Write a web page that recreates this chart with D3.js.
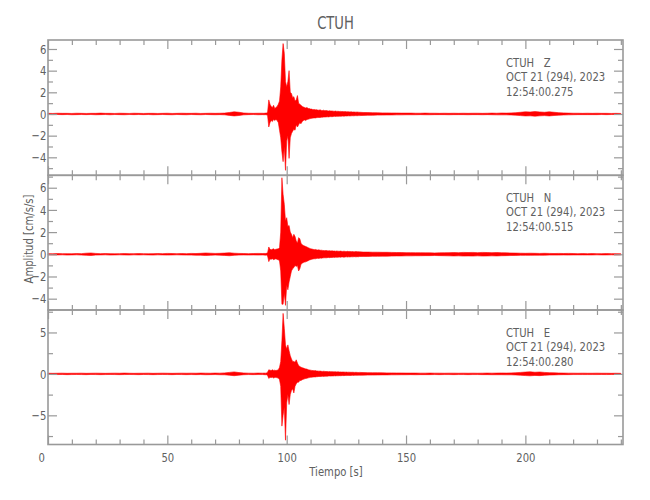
<!DOCTYPE html>
<html><head><meta charset="utf-8">
<script src="https://cdn.jsdelivr.net/npm/d3@7"></script>
<style>
body{margin:0;background:#fff}
text{font-family:"DejaVu Sans Condensed","Liberation Sans Narrow",sans-serif;fill:#606060}
</style>
</head><body><svg id="c" width="650" height="500"></svg>
<script>
// ---------- data ----------
const title = "CTUH";
const xLabel = "Tiempo [s]";
const yLabel = "Amplitud [cm/s/s]";
const xTicks = [0, 50, 100, 150, 200];
const xMinor = [10,20,30,40,60,70,80,90,110,120,130,140,160,170,180,190,210,220,230,240];
const yTicksZ = [-4, -2, 0, 2, 4, 6], yMinorZ = [-5, -3, -1, 1, 3, 5];
const yTicksN = [-4, -2, 0, 2, 4, 6], yMinorN = [-5, -3, -1, 1, 3, 5, 7];
const yTicksE = [-5, 0, 5], yMinorE = [-7.5, -2.5, 2.5, 7.5];
const infoZ = ["CTUH   Z", "OCT 21 (294), 2023", "12:54:00.275"];
const infoN = ["CTUH   N", "OCT 21 (294), 2023", "12:54:00.515"];
const infoE = ["CTUH   E", "OCT 21 (294), 2023", "12:54:00.280"];

// sample times (s): 2 s before the event, 0.5 s during it, 2 s after
const tPre = d3.range(0, 90, 2);          // 45
const tMain = d3.range(90, 131, 0.5);     // 82
const tPost = d3.range(132, 242, 2);      // 55
const sampleTimes = tPre.concat(tMain, tPost);

// envelope (max / min) of each component, cm/s/s
const zHi = [
 0.06,0.05,0.07,0.06,0.06,0.05,0.07,0.06,0.05,0.06,
 0.06,0.08,0.06,0.06,0.05,0.07,0.06,0.05,0.07,0.06,
 0.05,0.06,0.06,0.05,0.06,0.07,0.05,0.06,0.07,0.06,
 0.06,0.07,0.05,0.06,0.07,0.06,0.07,0.08,0.14,0.2,
 0.16,0.09,0.07,0.06,0.07,
 0.07,0.06,0.08,0.08,0.15,1.3,0.9,0.7,0.6,0.8,
 0.5,0.6,0.7,0.9,1.2,2.5,5.0,6.5,5.6,3.0,
 2.5,3.0,4.0,2.0,1.9,1.5,1.6,1.2,1.3,1.7,
 1.0,0.9,0.8,0.7,0.65,0.6,0.55,0.6,0.5,0.5,
 0.45,0.45,0.4,0.42,0.38,0.4,0.36,0.35,0.38,0.33,
 0.32,0.35,0.3,0.32,0.3,0.28,0.3,0.27,0.28,0.26,
 0.25,0.27,0.24,0.25,0.23,0.24,0.22,0.23,0.21,0.22,
 0.2,0.21,0.2,0.19,0.2,0.18,0.19,0.18,0.17,0.18,
 0.17,0.16,
 0.14,0.13,0.12,0.11,0.1,0.1,0.09,0.09,0.08,0.08,
 0.08,0.07,0.07,0.08,0.07,0.07,0.06,0.07,0.06,0.07,
 0.06,0.07,0.06,0.07,0.07,0.06,0.07,0.08,0.07,0.09,
 0.08,0.1,0.12,0.16,0.2,0.18,0.22,0.19,0.16,0.2,
 0.16,0.12,0.1,0.08,0.07,0.07,0.06,0.07,0.06,0.07,
 0.06,0.06,0.05,0.06,0.05
];
const zLo = [
 -0.05,-0.06,-0.05,-0.06,-0.05,-0.07,-0.06,-0.05,-0.06,-0.05,
 -0.07,-0.06,-0.05,-0.07,-0.05,-0.06,-0.07,-0.05,-0.06,-0.05,
 -0.06,-0.05,-0.07,-0.06,-0.05,-0.06,-0.07,-0.05,-0.06,-0.07,
 -0.05,-0.06,-0.07,-0.05,-0.06,-0.07,-0.06,-0.08,-0.13,-0.18,
 -0.14,-0.08,-0.06,-0.05,-0.07,
 -0.06,-0.07,-0.06,-0.08,-0.15,-1.2,-0.8,-0.6,-0.7,-0.5,
 -0.6,-0.5,-0.6,-0.8,-1.5,-2.2,-3.5,-4.4,-3.0,-5.2,
 -2.5,-2.0,-4.1,-2.2,-1.8,-1.6,-1.4,-1.5,-1.0,-1.2,
 -1.0,-0.8,-0.9,-0.7,-0.6,-0.55,-0.6,-0.5,-0.48,-0.45,
 -0.42,-0.4,-0.38,-0.36,-0.37,-0.34,-0.33,-0.32,-0.33,-0.3,
 -0.3,-0.28,-0.28,-0.27,-0.26,-0.27,-0.25,-0.24,-0.25,-0.23,
 -0.22,-0.23,-0.21,-0.22,-0.2,-0.21,-0.2,-0.19,-0.2,-0.18,
 -0.19,-0.18,-0.17,-0.18,-0.17,-0.16,-0.17,-0.16,-0.15,-0.16,
 -0.15,-0.15,
 -0.13,-0.12,-0.12,-0.1,-0.1,-0.09,-0.09,-0.08,-0.08,-0.07,
 -0.07,-0.07,-0.06,-0.07,-0.07,-0.06,-0.06,-0.06,-0.07,-0.06,
 -0.06,-0.06,-0.07,-0.06,-0.06,-0.07,-0.06,-0.07,-0.08,-0.08,
 -0.08,-0.09,-0.11,-0.15,-0.18,-0.17,-0.2,-0.17,-0.15,-0.18,
 -0.14,-0.11,-0.09,-0.08,-0.07,-0.06,-0.06,-0.06,-0.06,-0.06,
 -0.05,-0.06,-0.05,-0.05,-0.05
];
const nHi = [
 0.06,0.05,0.07,0.06,0.06,0.05,0.07,0.06,0.1,0.12,
 0.08,0.06,0.07,0.06,0.05,0.06,0.07,0.06,0.06,0.07,
 0.06,0.05,0.06,0.07,0.06,0.08,0.07,0.06,0.07,0.06,
 0.08,0.07,0.09,0.12,0.1,0.08,0.09,0.11,0.14,0.1,
 0.08,0.07,0.06,0.07,0.08,
 0.07,0.08,0.07,0.09,0.15,0.66,0.45,0.4,0.45,0.5,
 0.42,0.45,0.48,0.5,0.6,2.0,6.9,5.4,4.5,3.0,
 3.3,2.5,2.6,2.0,1.8,1.5,1.8,1.6,1.2,1.0,
 1.5,1.4,1.0,0.85,0.8,0.75,0.7,0.65,0.6,0.55,
 0.5,0.48,0.45,0.42,0.44,0.4,0.38,0.4,0.36,0.37,
 0.35,0.34,0.33,0.35,0.32,0.31,0.33,0.3,0.31,0.29,
 0.3,0.28,0.3,0.28,0.27,0.29,0.27,0.26,0.28,0.26,
 0.25,0.27,0.25,0.26,0.24,0.25,0.24,0.23,0.25,0.23,
 0.24,0.22,
 0.2,0.2,0.19,0.19,0.18,0.18,0.17,0.16,0.16,0.15,
 0.15,0.14,0.14,0.13,0.13,0.12,0.13,0.14,0.15,0.16,
 0.15,0.17,0.16,0.17,0.15,0.17,0.16,0.15,0.16,0.14,
 0.13,0.12,0.11,0.1,0.09,0.1,0.09,0.08,0.09,0.08,
 0.07,0.08,0.07,0.08,0.07,0.06,0.07,0.06,0.07,0.06,
 0.06,0.07,0.06,0.06,0.05
];
const nLo = [
 -0.05,-0.06,-0.06,-0.05,-0.07,-0.06,-0.05,-0.07,-0.09,-0.11,
 -0.07,-0.06,-0.05,-0.07,-0.06,-0.05,-0.06,-0.07,-0.05,-0.06,
 -0.05,-0.06,-0.07,-0.05,-0.06,-0.07,-0.06,-0.05,-0.06,-0.07,
 -0.07,-0.08,-0.08,-0.11,-0.09,-0.07,-0.08,-0.1,-0.13,-0.09,
 -0.07,-0.06,-0.07,-0.06,-0.07,
 -0.06,-0.07,-0.08,-0.07,-0.15,-0.66,-0.42,-0.45,-0.4,-0.48,
 -0.44,-0.4,-0.46,-0.5,-0.6,-1.5,-4.5,-4.5,-3.5,-4.6,
 -2.8,-3.2,-2.5,-2.0,-1.5,-1.3,-1.2,-1.0,-1.1,-1.0,
 -1.5,-1.3,-0.9,-0.8,-0.75,-0.7,-0.68,-0.62,-0.58,-0.52,
 -0.48,-0.45,-0.42,-0.4,-0.41,-0.38,-0.36,-0.37,-0.34,-0.35,
 -0.33,-0.32,-0.31,-0.32,-0.3,-0.29,-0.3,-0.28,-0.29,-0.27,
 -0.28,-0.26,-0.27,-0.26,-0.25,-0.27,-0.25,-0.24,-0.26,-0.24,
 -0.23,-0.25,-0.23,-0.24,-0.22,-0.23,-0.22,-0.21,-0.23,-0.21,
 -0.22,-0.2,
 -0.19,-0.19,-0.18,-0.18,-0.17,-0.17,-0.16,-0.15,-0.15,-0.14,
 -0.14,-0.13,-0.13,-0.12,-0.12,-0.11,-0.12,-0.13,-0.14,-0.15,
 -0.14,-0.16,-0.15,-0.16,-0.14,-0.16,-0.15,-0.14,-0.15,-0.13,
 -0.12,-0.11,-0.1,-0.09,-0.09,-0.09,-0.08,-0.08,-0.08,-0.07,
 -0.07,-0.07,-0.06,-0.07,-0.06,-0.06,-0.06,-0.06,-0.06,-0.05,
 -0.06,-0.06,-0.05,-0.06,-0.05
];
const eHi = [
 0.08,0.07,0.08,0.09,0.07,0.08,0.08,0.09,0.07,0.08,
 0.09,0.08,0.07,0.08,0.09,0.08,0.1,0.08,0.07,0.08,
 0.08,0.09,0.07,0.08,0.09,0.08,0.07,0.08,0.09,0.08,
 0.09,0.08,0.1,0.09,0.08,0.1,0.09,0.12,0.18,0.24,
 0.16,0.11,0.09,0.08,0.1,
 0.09,0.1,0.09,0.11,0.2,0.5,0.45,0.4,0.5,0.42,
 0.45,0.4,0.45,0.5,0.8,1.5,4.0,7.3,5.5,3.5,
 3.0,3.5,2.8,2.2,1.8,1.5,1.5,1.4,1.7,1.3,
 1.0,0.9,0.8,0.75,0.7,0.65,0.6,0.58,0.5,0.48,
 0.45,0.42,0.4,0.38,0.4,0.36,0.35,0.33,0.34,0.31,
 0.3,0.32,0.3,0.28,0.29,0.27,0.28,0.26,0.27,0.25,
 0.25,0.26,0.24,0.25,0.23,0.24,0.22,0.23,0.22,0.21,
 0.22,0.2,0.21,0.2,0.19,0.2,0.19,0.18,0.19,0.18,
 0.17,0.18,
 0.16,0.15,0.14,0.14,0.13,0.12,0.12,0.11,0.11,0.1,
 0.1,0.1,0.09,0.09,0.1,0.09,0.09,0.08,0.09,0.09,
 0.08,0.09,0.08,0.09,0.08,0.09,0.1,0.09,0.1,0.11,
 0.1,0.12,0.14,0.18,0.22,0.25,0.2,0.23,0.18,0.15,
 0.13,0.11,0.1,0.09,0.09,0.08,0.09,0.08,0.08,0.09,
 0.08,0.08,0.07,0.08,0.07
];
const eLo = [
 -0.07,-0.08,-0.08,-0.07,-0.09,-0.08,-0.07,-0.08,-0.09,-0.07,
 -0.08,-0.09,-0.08,-0.07,-0.08,-0.09,-0.08,-0.07,-0.08,-0.09,
 -0.07,-0.08,-0.09,-0.08,-0.07,-0.08,-0.09,-0.07,-0.08,-0.09,
 -0.08,-0.09,-0.08,-0.1,-0.09,-0.08,-0.1,-0.11,-0.16,-0.22,
 -0.15,-0.1,-0.08,-0.09,-0.08,
 -0.08,-0.09,-0.1,-0.1,-0.2,-0.55,-0.42,-0.45,-0.4,-0.5,
 -0.44,-0.42,-0.48,-0.5,-0.7,-1.5,-6.3,-5.0,-4.0,-8.0,
 -3.5,-2.5,-3.7,-2.5,-2.0,-1.8,-2.3,-1.5,-1.2,-1.0,
 -1.0,-0.8,-0.8,-0.7,-0.65,-0.6,-0.55,-0.52,-0.48,-0.45,
 -0.42,-0.4,-0.38,-0.36,-0.37,-0.34,-0.33,-0.31,-0.32,-0.3,
 -0.29,-0.3,-0.28,-0.27,-0.28,-0.26,-0.25,-0.26,-0.24,-0.25,
 -0.23,-0.24,-0.22,-0.23,-0.21,-0.22,-0.21,-0.2,-0.21,-0.19,
 -0.2,-0.19,-0.18,-0.19,-0.18,-0.17,-0.18,-0.17,-0.16,-0.17,
 -0.16,-0.16,
 -0.15,-0.14,-0.14,-0.13,-0.12,-0.12,-0.11,-0.11,-0.1,-0.1,
 -0.09,-0.1,-0.09,-0.09,-0.09,-0.08,-0.09,-0.08,-0.08,-0.09,
 -0.08,-0.08,-0.09,-0.08,-0.08,-0.09,-0.09,-0.1,-0.1,-0.1,
 -0.11,-0.11,-0.13,-0.16,-0.2,-0.23,-0.19,-0.21,-0.17,-0.14,
 -0.12,-0.1,-0.09,-0.09,-0.08,-0.08,-0.08,-0.08,-0.08,-0.08,
 -0.07,-0.08,-0.07,-0.07,-0.07
];

// ---------- chart ----------
const svg = d3.select("#c");
const gridColor = "#999";
const squeeze = 0.86;   // narrow lettering like the original plot font
const x = d3.scaleLinear().domain([0, 240.9]).range([48, 623]);

const panels = [
  {top: 40,    bottom: 175.3, domain: [-5.66, 6.83], major: yTicksZ, minor: yMinorZ, hi: zHi, lo: zLo, info: infoZ},
  {top: 175.3, bottom: 310,   domain: [-5.02, 7.12], major: yTicksN, minor: yMinorN, hi: nHi, lo: nLo, info: infoN},
  {top: 310,   bottom: 444.5, domain: [-8.52, 7.71], major: yTicksE, minor: yMinorE, hi: eHi, lo: eLo, info: infoE}
];

function styleAxis(g) {
  g.select(".domain").remove();
  g.selectAll(".tick line").attr("stroke", gridColor).attr("stroke-width", 1.2);
  g.selectAll("text").attr("font-size", 13).attr("fill", "#606060")
    .attr("transform", `scale(${squeeze},1)`)
    .style("font-family", '"DejaVu Sans Condensed","Liberation Sans Narrow",sans-serif');
}

function label(xp, yp, str, opts = {}) {
  const g = svg.append("g").attr("transform",
    `translate(${xp},${yp})${opts.rotate ? " rotate(" + opts.rotate + ")" : ""} scale(${squeeze},1)`);
  return g.append("text").attr("x", 0).attr("y", 0)
    .attr("text-anchor", opts.anchor || "start")
    .attr("font-size", opts.size || 13)
    .attr("fill", opts.fill || "#606060")
    .style("white-space", "pre").text(str);
}

panels.forEach((p, k) => {
  const y = d3.scaleLinear().domain(p.domain).range([p.bottom, p.top]);
  const last = k === panels.length - 1;

  // waveform envelope
  const n = Math.min(sampleTimes.length, p.hi.length, p.lo.length);
  const pts = d3.range(n).map(i => ({t: sampleTimes[i], hi: p.hi[i], lo: p.lo[i]}));
  svg.append("path")
    .attr("d", d3.area().x(d => x(d.t)).y0(d => y(d.lo)).y1(d => y(d.hi))(pts))
    .attr("fill", "#ff0000").attr("stroke", "#ff0000").attr("stroke-width", 0.6)
    .attr("stroke-linejoin", "round");

  // y axes (left with labels, right without)
  svg.append("g").attr("transform", `translate(${x.range()[0]},0)`)
    .call(d3.axisLeft(y).tickValues(p.major).tickSize(-9).tickPadding(2)).call(styleAxis);
  svg.append("g").attr("transform", `translate(${x.range()[0]},0)`)
    .call(d3.axisLeft(y).tickValues(p.minor).tickSize(-5).tickFormat("")).call(styleAxis);
  svg.append("g").attr("transform", `translate(${x.range()[1]},0)`)
    .call(d3.axisRight(y).tickValues(p.major).tickSize(-9).tickFormat("")).call(styleAxis);
  svg.append("g").attr("transform", `translate(${x.range()[1]},0)`)
    .call(d3.axisRight(y).tickValues(p.minor).tickSize(-5).tickFormat("")).call(styleAxis);

  // x axes (top and bottom of each panel)
  svg.append("g").attr("transform", `translate(0,${p.top})`)
    .call(d3.axisTop(x).tickValues(xTicks).tickSize(-9).tickFormat("")).call(styleAxis);
  svg.append("g").attr("transform", `translate(0,${p.top})`)
    .call(d3.axisTop(x).tickValues(xMinor).tickSize(-5).tickFormat("")).call(styleAxis);
  const bx = svg.append("g").attr("transform", `translate(0,${p.bottom})`)
    .call(d3.axisBottom(x).tickValues(xTicks).tickSize(-9).tickPadding(8)
      .tickFormat(last ? d3.format("d") : "")).call(styleAxis);
  if (last) bx.selectAll(".tick text").filter(d => d === 0).attr("x", -8);
  svg.append("g").attr("transform", `translate(0,${p.bottom})`)
    .call(d3.axisBottom(x).tickValues(xMinor).tickSize(-5).tickFormat("")).call(styleAxis);

  // frame
  svg.append("rect").attr("x", x.range()[0]).attr("y", p.top)
    .attr("width", x.range()[1] - x.range()[0]).attr("height", p.bottom - p.top)
    .attr("fill", "none").attr("stroke", gridColor).attr("stroke-width", 1.6);

  // station info
  p.info.forEach((s, j) => label(506, p.top + 26.5 + j * 14.5, s));
});

// titles
label((x.range()[0] + x.range()[1]) / 2, 29, title, {anchor: "middle", size: 17, fill: "#707070"});
label(336, 476, xLabel, {anchor: "middle"});
label(33, 239, yLabel, {anchor: "middle", rotate: -90});
</script>
</body></html>
